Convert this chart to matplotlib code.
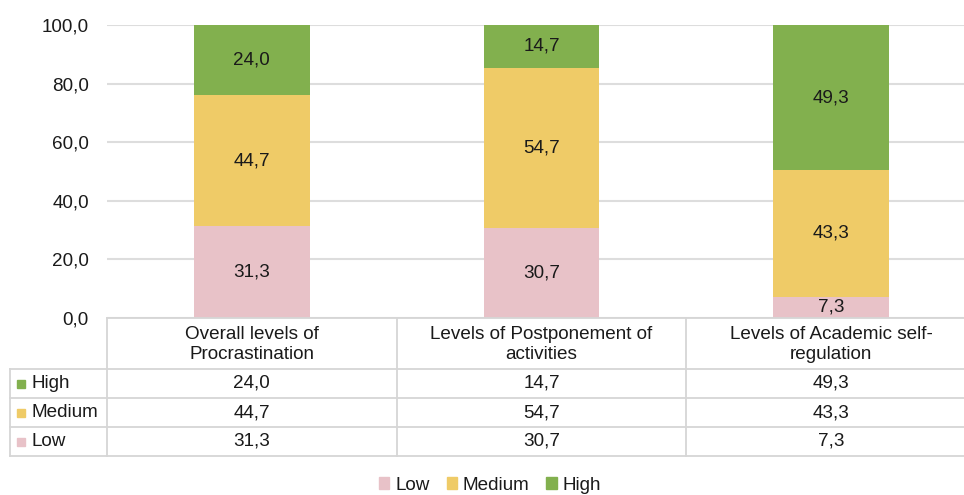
import matplotlib.pyplot as plt
from matplotlib.patches import Rectangle
import numpy as np

plt.rcParams['font.family'] = ['Liberation Sans', 'DejaVu Sans']

categories = ['Overall levels of\nProcrastination',
              'Levels of Postponement of\nactivities',
              'Levels of Academic self-\nregulation']
low = [31.3, 30.7, 7.3]
medium = [44.7, 54.7, 43.3]
high = [24.0, 14.7, 49.3]

series_names = ['Low', 'Medium', 'High']
colours = {'Low': '#E8C2C8', 'Medium': '#EFCB67', 'High': '#82B04E'}
yticks = [0, 20, 40, 60, 80, 100]

W, H = 964, 495
fs = 13.6
txt = '#1a1a1a'
grid_col = '#DDDDDD'


def fmt(v):
    return f"{v:.1f}".replace('.', ',')


fig = plt.figure(figsize=(W / 100, H / 100), dpi=100)

# chart area in pixels (it runs a little past the right edge of the image)
x0, x1 = 107, 976
y_top, y_bot = 25, 318
ax = fig.add_axes([x0 / W, 1 - y_bot / H, (x1 - x0) / W, (y_bot - y_top) / H])

x = np.arange(len(categories))
data = {'Low': low, 'Medium': medium, 'High': high}
bottom = np.zeros(len(categories))
for name in series_names:
    vals = np.array(data[name])
    ax.bar(x, vals, 0.4, bottom=bottom, color=colours[name], zorder=2)
    for xi, b, v in zip(x, bottom, vals):
        ax.text(xi, b + v / 2, fmt(v), ha='center', va='center',
                fontsize=fs, color=txt, zorder=3)
    bottom += vals

ax.set_xlim(-0.5, len(categories) - 0.5)
ax.set_ylim(0, 100)
ax.set_yticks(yticks)
ax.set_yticklabels([fmt(t) for t in yticks], fontsize=fs, color=txt)
ax.set_xticks([])
ax.tick_params(axis='y', length=0, pad=13)
for s in ax.spines.values():
    s.set_visible(False)
ax.grid(axis='y', color=grid_col, lw=1.5, zorder=0)

# data table under the chart
t_left = 10
label_w = (x0 - t_left) / ((x1 - x0) / len(categories))
row_h = [51, 29, 29, 29]
edges = np.concatenate([[0], np.cumsum(row_h)])
tab = fig.add_axes([t_left / W, 1 - (y_bot + edges[-1]) / H,
                    (x1 - t_left) / W, edges[-1] / H])
tab.set_xlim(-0.5 - label_w, len(categories) - 0.5)
tab.set_ylim(edges[-1], 0)
tab.axis('off')

lc = '#D6D6D6'
tab.plot([-0.5, len(categories) - 0.5], [0, 0], color=lc, lw=1.3, clip_on=False)
for e in edges[1:]:
    tab.plot([-0.5 - label_w, len(categories) - 0.5], [e, e], color=lc, lw=1.3,
             clip_on=False)
tab.plot([-0.5 - label_w] * 2, [edges[1], edges[-1]], color=lc, lw=1.3, clip_on=False)
for i in range(len(categories) + 1):
    tab.plot([i - 0.5] * 2, [0, edges[-1]], color=lc, lw=1.3, clip_on=False)

for i, c in enumerate(categories):
    tab.text(i, row_h[0] / 2 + 1, c, ha='center', va='center', fontsize=fs,
             color=txt, linespacing=1.3)

row_order = ['High', 'Medium', 'Low']
px = (x1 - x0) / len(categories)  # pixels per category unit
for r, name in enumerate(row_order):
    yc = (edges[r + 1] + edges[r + 2]) / 2
    tab.add_patch(Rectangle((-0.5 - label_w + 7 / px, yc - 4), 8 / px, 8,
                            color=colours[name]))
    tab.text(-0.5 - label_w + 21 / px, yc, name, ha='left', va='center',
             fontsize=fs, color=txt)
    for i, v in enumerate(data[name]):
        tab.text(i, yc, fmt(v), ha='center', va='center', fontsize=fs, color=txt)

# legend at the bottom
handles = [Rectangle((0, 0), 1, 1, color=colours[n]) for n in series_names]
fig.legend(handles, series_names, loc='center', bbox_to_anchor=(490 / W, 1 - 485 / H),
           ncol=3, frameon=False, fontsize=fs, handlelength=0.55, handleheight=0.55,
           handletextpad=0.3, columnspacing=0.9, labelcolor=txt)

fig.savefig('out.png', dpi=100)
